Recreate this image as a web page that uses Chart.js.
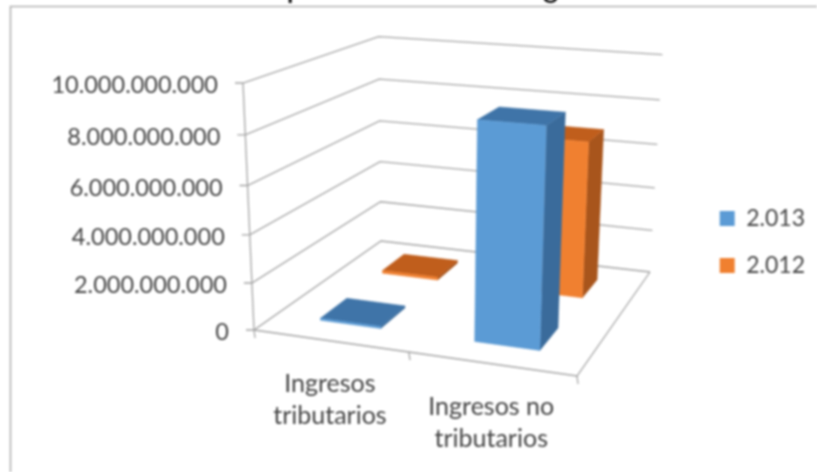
<!DOCTYPE html>
<html>
<head>
<meta charset="utf-8">
<script src="https://cdn.jsdelivr.net/npm/chart.js@4"></script>
<style>
html,body{margin:0;padding:0;background:#fff;overflow:hidden;width:817px;height:472px}
#wrap{position:absolute;left:0;top:0;width:817px;height:472px;overflow:hidden}
canvas{position:absolute;left:0;top:-40px;filter:blur(0.8px)}
</style>
</head>
<body>
<div id="wrap"><canvas id="c" width="817" height="564"></canvas></div>
<script>
const titleText = 'Comportamiento de ingreso';
const categories = [['Ingresos','tributarios'],['Ingresos no','tributarios']];
const seriesNames = ['2.013','2.012'];
const values2013 = [90000000, 8900000000];
const values2012 = [130000000, 6900000000];
const valueMax = 10000000000;
const valueStep = 2000000000;

const SHIFT = 40;
const FONT = 'Lato, sans-serif';
const TEXT = '#444444';
const GRID = '#a4a4a4';
const faces = [
  {front:'#5b9bd5', top:'#3f74a8', side:'#3a6b9b'},
  {front:'#f08030', top:'#c05e1c', side:'#a8551c'}
];
// camera: floor quad corners + height column
const A=[254,330],B=[577,376],D=[650,272],C=[381,241];
const det=(p,q)=>p[0]*q[1]-p[1]*q[0];
const dx1=[B[0]-D[0],B[1]-D[1]],dx2=[C[0]-D[0],C[1]-D[1]];
const sv=[A[0]-B[0]+D[0]-C[0],A[1]-B[1]+D[1]-C[1]];
const gg=det(sv,dx2)/det(dx1,dx2), ii=det(dx1,sv)/det(dx1,dx2);
const hw=-0.06, hx=243*(1+hw)-254, hy=83*(1+hw)-330;
function P(u,z,h){
  const w=1+gg*u+ii*z+hw*h;
  const X=A[0]+(B[0]*(1+gg)-A[0])*u+(C[0]*(1+ii)-A[0])*z+hx*h;
  const Y=A[1]+(B[1]*(1+gg)-A[1])*u+(C[1]*(1+ii)-A[1])*z+hy*h;
  return [X/w,Y/w];
}
function line(ctx,pts){
  ctx.beginPath();
  pts.forEach((p,i)=>i?ctx.lineTo(p[0],p[1]):ctx.moveTo(p[0],p[1]));
  ctx.stroke();
}
function poly(ctx,pts,color){
  ctx.fillStyle=color;ctx.strokeStyle=color;ctx.lineWidth=0.5;
  ctx.beginPath();
  pts.forEach((p,i)=>i?ctx.lineTo(p[0],p[1]):ctx.moveTo(p[0],p[1]));
  ctx.closePath();ctx.fill();ctx.stroke();
}
const scene={
  id:'scene',
  beforeDatasetsDraw(chart){
    const ctx=chart.ctx, a=chart.chartArea, ys=chart.scales.y, xs=chart.scales.x;
    const W=a.right-a.left, H=a.bottom-a.top;
    ctx.save();
    ctx.translate(0,SHIFT);
    // frame
    ctx.strokeStyle='#b0b0b0';ctx.lineWidth=1.6;
    line(ctx,[[10.5,472],[10.5,6.5],[817,6.5]]);
    // walls and floor
    ctx.strokeStyle=GRID;ctx.lineWidth=1.3;
    ys.ticks.forEach(t=>{
      const h=(a.bottom-ys.getPixelForValue(t.value))/H;
      const f=P(0,0,h);
      line(ctx,[[f[0]-8,f[1]],f,P(0,1,h),P(1,1,h)]);
    });
    line(ctx,[P(0,0,0),P(1,0,0),P(1,1,0)]);
    line(ctx,[P(0,0,0),P(0,0,1)]);
    [0,0.5,1].forEach(u=>{const p=P(u,0,0);line(ctx,[p,[p[0]+1,p[1]+8]]);});
    // y labels
    ctx.fillStyle=TEXT;ctx.font='23.5px '+FONT;ctx.textAlign='right';ctx.textBaseline='middle';
    ys.ticks.forEach(t=>{
      const h=(a.bottom-ys.getPixelForValue(t.value))/H;
      const f=P(0,0,h);
      ctx.fillText(t.label,f[0]-25,f[1]+2.5);
    });
    // category labels
    ctx.font='25px '+FONT;ctx.textAlign='center';
    categories.forEach((lines,i)=>{
      const p=P((xs.getPixelForValue(i)-a.left)/W,0,0);
      lines.forEach((s,j)=>ctx.fillText(s,p[0],p[1]+43+j*32));
    });
    // bars back to front
    for(let d=chart.data.datasets.length-1;d>=0;d--){
      const z0=d===0?0.15:0.65, z1=z0+0.2, col=faces[d];
      chart.getDatasetMeta(d).data.forEach(el=>{
        const u0=(el.x-el.width/2-a.left)/W, u1=(el.x+el.width/2-a.left)/W;
        const h=(a.bottom-el.y)/H;
        poly(ctx,[P(u1,z0,0),P(u1,z1,0),P(u1,z1,h),P(u1,z0,h)],col.side);
        poly(ctx,[P(u0,z0,h),P(u1,z0,h),P(u1,z1,h),P(u0,z1,h)],col.top);
        poly(ctx,[P(u0,z0,0),P(u1,z0,0),P(u1,z0,h),P(u0,z0,h)],col.front);
      });
    }
    ctx.restore();
    return false;
  }
};
new Chart(document.getElementById('c'),{
  type:'bar',
  data:{
    labels:categories,
    datasets:[
      {label:seriesNames[0],data:values2013,backgroundColor:faces[0].front,barPercentage:0.4,categoryPercentage:1},
      {label:seriesNames[1],data:values2012,backgroundColor:faces[1].front,barPercentage:0.4,categoryPercentage:1}
    ]
  },
  options:{
    responsive:false,animation:false,
    layout:{padding:{left:26,right:2,top:0,bottom:0}},
    scales:{
      x:{display:false,stacked:true,offset:true},
      y:{display:false,stacked:false,min:0,max:valueMax,
         ticks:{stepSize:valueStep,callback:v=>String(v).replace(/\B(?=(\d{3})+(?!\d))/g,'.')}}
    },
    plugins:{
      title:{display:true,text:titleText,color:'#000',font:{family:'"Liberation Sans"',size:33,weight:'normal'},padding:{top:7,bottom:0}},
      legend:{position:'right',labels:{boxWidth:15,boxHeight:15,padding:24,color:TEXT,font:{family:FONT,size:23}}},
      tooltip:{enabled:false}
    }
  },
  plugins:[scene]
});
</script>
</body>
</html>
